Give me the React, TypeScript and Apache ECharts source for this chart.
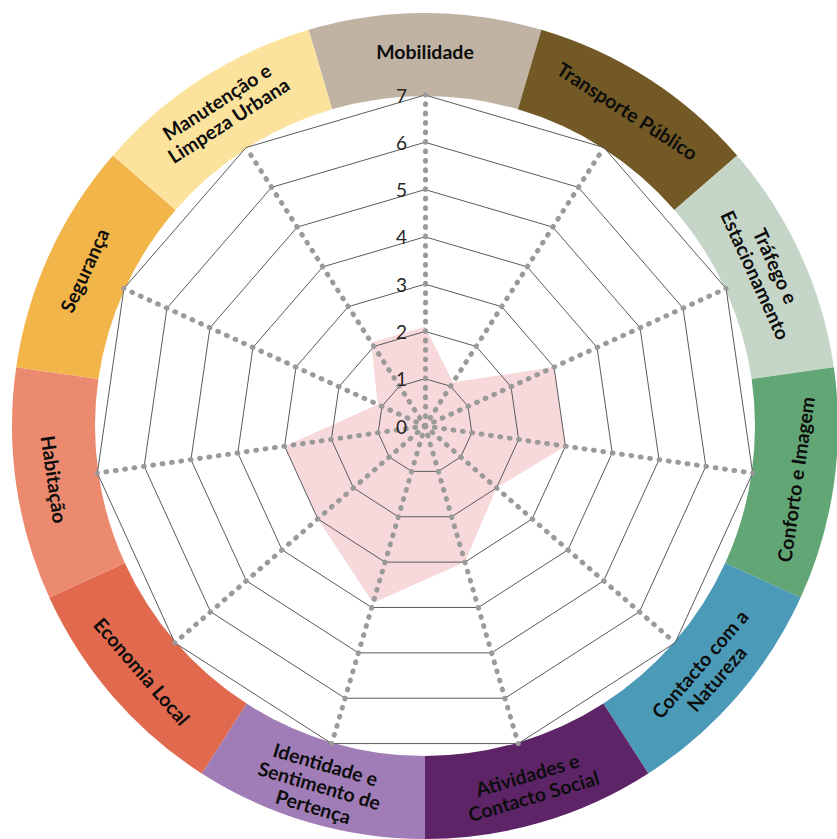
import React, { useEffect, useRef } from "react";
import * as echarts from "echarts";

// Themes, clockwise from the top
const categories = [
  "Mobilidade",
  "Transporte Público",
  "Tráfego e Estacionamento",
  "Conforto e Imagem",
  "Contacto com a Natureza",
  "Atividades e Contacto Social",
  "Identidade e Sentimento de Pertença",
  "Economia Local",
  "Habitação",
  "Segurança",
  "Manutenção e Limpeza Urbana",
];

// How each theme name is broken into lines on the ring
const categoryLabels = [
  "Mobilidade",
  "Transporte Público",
  "Tráfego e\nEstacionamento",
  "Conforto e Imagem",
  "Contacto com a\nNatureza",
  "Atividades e\nContacto Social",
  "Identidade e\nSentimento de\nPertença",
  "Economia Local",
  "Habitação",
  "Segurança",
  "Manutenção e\nLimpeza Urbana",
];

// Scores (0–7), same order as categories
const scores = [2.1, 1.1, 3, 3, 2, 3, 3.9, 3, 3, 1.1, 2.1];

const scaleMin = 0;
const scaleMax = 7;
const scaleSteps = 7;

const ringColors = [
  "#C0B3A3",
  "#725925",
  "#C5D5C7",
  "#63A676",
  "#4B9AB7",
  "#5E2468",
  "#A07DB6",
  "#E1694E",
  "#EB8A6F",
  "#F2B54A",
  "#FCE39D",
];

export default function App() {
  const ref = useRef<HTMLDivElement>(null);

  useEffect(() => {
    if (!ref.current) return;
    const chart = echarts.init(ref.current, undefined, { renderer: "svg" });

    const cx = 425;
    const cy = 426;
    const radarRadius = 331;
    const n = categories.length;
    const tickPeriod = radarRadius / (scaleSteps * 5);

    // ECharts radar lays indicators out counter-clockwise; the ring runs clockwise.
    const radarOrder = [0, ...Array.from({ length: n - 1 }, (_, k) => n - 1 - k)];

    chart.setOption({
      animation: false,
      backgroundColor: "#ffffff",
      radar: {
        z: 5,
        center: [cx, cy],
        radius: radarRadius,
        startAngle: 90,
        splitNumber: scaleSteps,
        shape: "polygon",
        indicator: radarOrder.map((i, k) => ({
          name: categories[i],
          min: scaleMin,
          max: scaleMax,
          ...(k === 0
            ? {
                axisLabel: {
                  show: true,
                  fontSize: 19,
                  color: "#262626",
                  fontFamily: "Lato, sans-serif",
                  margin: 18,
                },
              }
            : {}),
        })),
        axisName: { show: false },
        splitLine: { lineStyle: { color: "#5a5a5a", width: 1 } },
        splitArea: { show: false },
        axisLine: {
          show: true,
          lineStyle: {
            color: "#9a9a9a",
            width: 5,
            type: [0.8, tickPeriod - 0.8],
            dashOffset: 0.4,
          },
        },
        axisTick: { show: false },
        axisLabel: { show: false },
      },
      series: [
        {
          type: "pie",
          silent: true,
          z: 1,
          center: [cx, cy],
          radius: [330, 413],
          startAngle: 90 + 180 / n,
          clockwise: true,
          avoidLabelOverlap: false,
          itemStyle: { borderWidth: 0 },
          label: {
            show: true,
            position: "inside",
            rotate: "tangential",
            color: "#0d0d0d",
            fontWeight: "bold",
            fontSize: 19.5,
            lineHeight: 22,
            fontFamily: "Lato, sans-serif",
            formatter: (p: any) => categoryLabels[p.dataIndex],
          },
          labelLine: { show: false },
          emphasis: { disabled: true },
          data: categories.map((c, i) => ({
            name: c,
            value: 1,
            itemStyle: { color: ringColors[i] },
          })),
        },
        {
          type: "radar",
          silent: true,
          z: 4,
          symbol: "none",
          lineStyle: { width: 0, opacity: 0 },
          areaStyle: { color: "rgba(228,118,130,0.4)" },
          data: [{ value: radarOrder.map((i) => scores[i]), name: "Avaliação" }],
        },
      ],
    });

    return () => chart.dispose();
  }, []);

  return (
    <div
      ref={ref}
      style={{
        position: "fixed",
        left: 0,
        top: 0,
        width: 837,
        height: 839,
        background: "#fff",
      }}
    />
  );
}
